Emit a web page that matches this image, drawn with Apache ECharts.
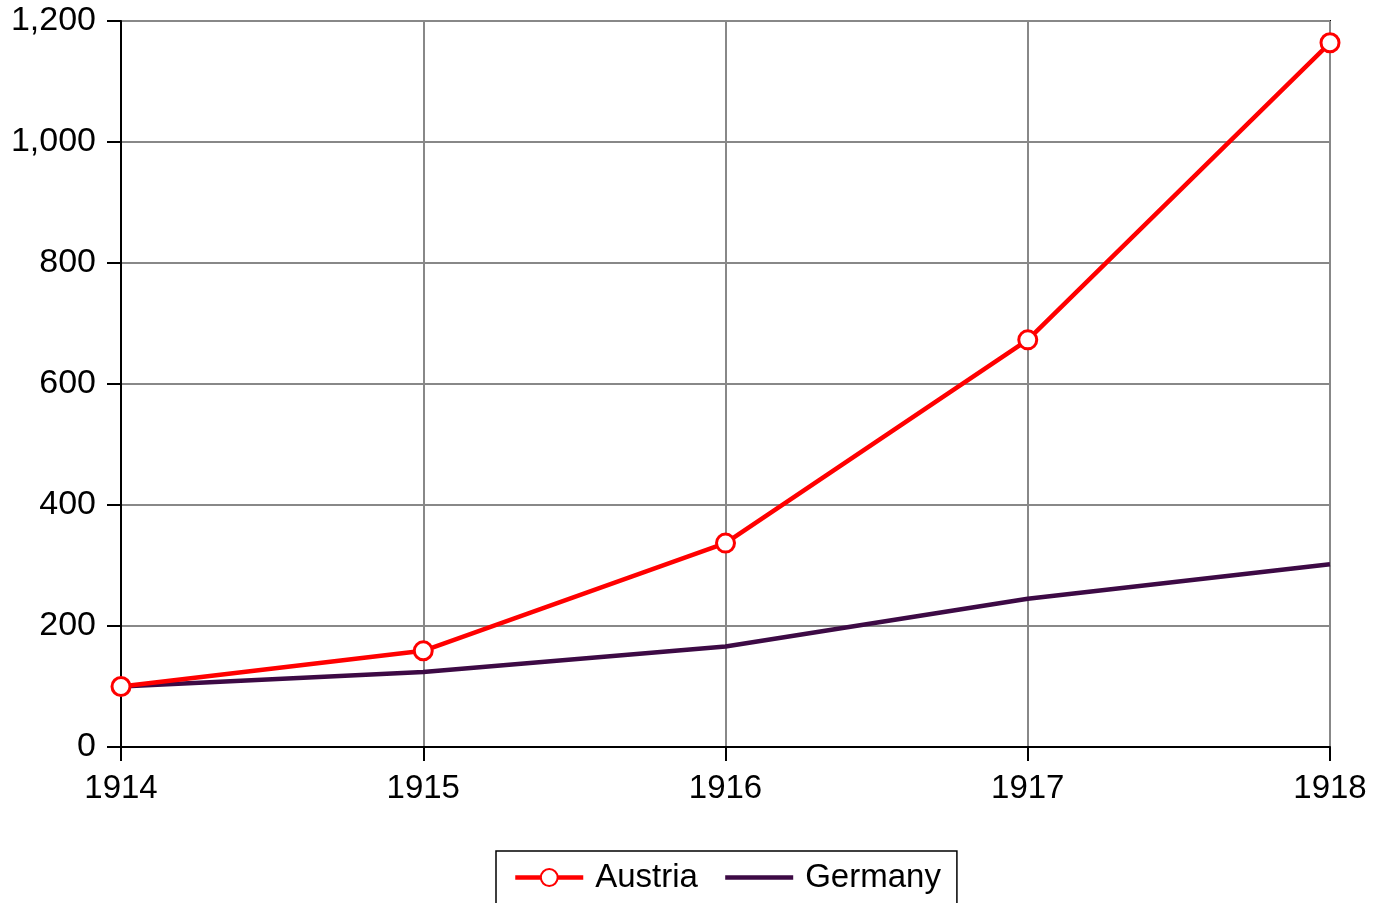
<!DOCTYPE html>
<html>
<head>
<meta charset="utf-8">
<script src="https://cdn.jsdelivr.net/npm/echarts@6/dist/echarts.min.js"></script>
<style>
  html, body { margin: 0; padding: 0; background: #fff; }
  #chart { width: 1377px; height: 903px; }
</style>
</head>
<body>
<div id="chart"></div>
<script>
// data
var years = ["1914", "1915", "1916", "1917", "1918"];
var austria = [100, 159, 337, 673, 1164];
var germany = [100, 124, 166, 245, 302];

var font = "'Liberation Sans', Arial, sans-serif";
var red = "#ff0000";
var purple = "#3d0a45";

var chart = echarts.init(document.getElementById("chart"));
var option = {
  animation: false,
  textStyle: { fontFamily: font },
  grid: {
    left: 121,
    right: 47,
    top: 21,
    bottom: 156,
    show: true,
    borderColor: "#000",
    borderWidth: 2,
    backgroundColor: "transparent"
  },
  legend: {
    left: 496,
    top: 851,
    padding: [10, 16, 14, 17],
    itemGap: 25,
    itemWidth: 68,
    itemHeight: 21,
    borderColor: "#000",
    borderWidth: 1.5,
    borderRadius: 0,
    textStyle: { fontSize: 33, color: "#000", fontFamily: font, padding: [0, 0, 0, 7] },
    data: [
      { name: "Austria", lineStyle: { width: 4.5, color: red } },
      { name: "Germany", lineStyle: { width: 4.5, color: purple }, itemStyle: { opacity: 0 } }
    ]
  },
  xAxis: {
    type: "category",
    data: years,
    boundaryGap: false,
    axisLine: { lineStyle: { color: "#000", width: 2 } },
    axisTick: { show: true, length: 14, alignWithLabel: true, lineStyle: { color: "#000", width: 2 } },
    axisLabel: { fontSize: 33, color: "#000", margin: 25, fontFamily: font },
    splitLine: { show: true, lineStyle: { color: "#888", width: 2 } }
  },
  yAxis: {
    type: "value",
    min: 0,
    max: 1200,
    interval: 200,
    axisLine: { show: true, lineStyle: { color: "#000", width: 2 } },
    axisTick: { show: true, length: 14, lineStyle: { color: "#000", width: 2 } },
    axisLabel: {
      fontSize: 34,
      color: "#000",
      margin: 25,
      fontFamily: font,
      formatter: function (v) { return v.toLocaleString("en-US"); }
    },
    splitLine: { show: true, lineStyle: { color: "#888", width: 2 } }
  },
  series: [
    {
      name: "Austria",
      type: "line",
      data: austria,
      symbol: "circle",
      symbolSize: 18,
      lineStyle: { color: red, width: 4.5 },
      itemStyle: { color: "#fff", borderColor: red, borderWidth: 3 },
      z: 3
    },
    {
      name: "Germany",
      type: "line",
      data: germany,
      symbol: "none",
      lineStyle: { color: purple, width: 4.5 },
      itemStyle: { color: purple },
      z: 2
    }
  ]
};
chart.setOption(option);
</script>
</body>
</html>
